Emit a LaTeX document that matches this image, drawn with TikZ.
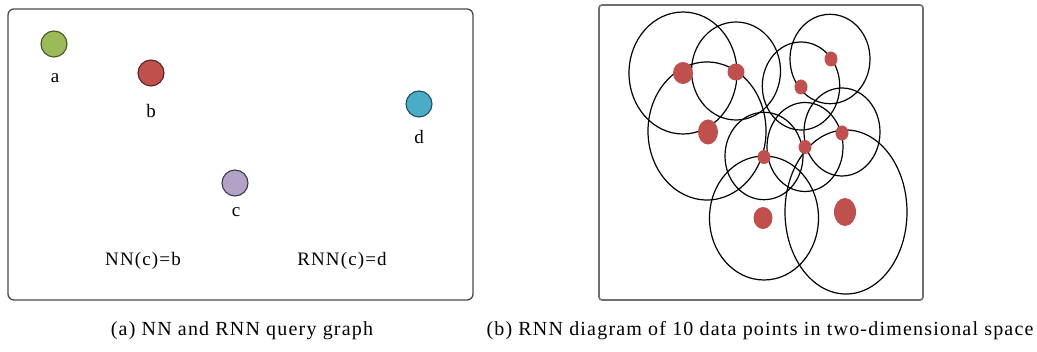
\documentclass[tikz,border=0pt]{standalone}
\usepackage{fontspec}
\setmainfont[LetterSpace=6]{Liberation Serif}
\usetikzlibrary{positioning}
\definecolor{PtGreen}{HTML}{9BBB59}
\definecolor{PtRed}{HTML}{C0504D}
\definecolor{PtLilac}{HTML}{B3A2C7}
\definecolor{PtCyan}{HTML}{4BACC6}
\definecolor{FrameDark}{HTML}{4A4A4A}
\definecolor{FrameGray}{HTML}{6E6E6E}
\tikzset{
  pt/.style={draw, circle, minimum size=26pt, inner sep=0pt, line width=1.1pt},
  lbl/.style={anchor=base, font=\fontsize{19}{21}\selectfont},
  subcap/.style={anchor=base, font=\fontsize{20}{22}\selectfont},
  ring/.style={draw=black, line width=1.2pt},
  spot/.style={fill=PtRed}
}

\begin{document}
\begin{tikzpicture}[x=1pt, y=-1pt]
  \useasboundingbox (0,0) rectangle (1037,352);
  \draw[rounded corners=6pt, line width=1.3pt, FrameDark] (8,9) rectangle (473,300);
  \node[pt, draw=PtGreen!45!black, fill=PtGreen] (a) at (54,44) {};
  \node[lbl] (la) at (55,83) {a};
  \node[pt, draw=PtRed!45!black, fill=PtRed] (b) at (151,73) {};
  \node[lbl] (lb) at (151,118) {b};
  \node[pt, draw=PtLilac!35!black, fill=PtLilac] (c) at (235,183) {};
  \node[lbl] (lc) at (236,217) {c};
  \node[pt, draw=PtCyan!45!black, fill=PtCyan] (d) at (419,104) {};
  \node[lbl] (ld) at (419,144) {d};
  \node[lbl] (nn) at (143,266) {NN(c)=b};
  \node[lbl] (rnn) at (342,266) {RNN(c)=d};

  \draw[rounded corners=3pt, line width=1.6pt, FrameGray] (599,5) rectangle (923,300);
  \draw[ring] (683,73) ellipse [x radius=54, y radius=61];
  \draw[ring] (736,71) ellipse [x radius=44.5, y radius=49];
  \draw[ring] (830,59) ellipse [x radius=40, y radius=44.7];
  \draw[ring] (801,86) ellipse [x radius=38.7, y radius=44];
  \draw[ring] (707,131) ellipse [x radius=59, y radius=69];
  \draw[ring] (764,156) ellipse [x radius=39, y radius=43.7];
  \draw[ring] (805,147) ellipse [x radius=38, y radius=44.5];
  \draw[ring] (842,132) ellipse [x radius=38, y radius=44];
  \draw[ring] (764,218) ellipse [x radius=54.5, y radius=62];
  \draw[ring] (846,212) ellipse [x radius=61, y radius=82];
  \fill[spot] (683,73) ellipse [x radius=10, y radius=11];
  \fill[spot] (736,72) ellipse [x radius=8.5, y radius=8.5];
  \fill[spot] (831,59) ellipse [x radius=6.5, y radius=7.5];
  \fill[spot] (801,87) ellipse [x radius=6.5, y radius=7.5];
  \fill[spot] (708,132) ellipse [x radius=10, y radius=12.5];
  \fill[spot] (764,157) ellipse [x radius=6.5, y radius=7];
  \fill[spot] (805,147) ellipse [x radius=6.5, y radius=7];
  \fill[spot] (842,133) ellipse [x radius=6.5, y radius=7.5];
  \fill[spot] (763,218) ellipse [x radius=9.5, y radius=11];
  \fill[spot] (845,212) ellipse [x radius=11, y radius=14];

  \node[subcap] (capa) at (242,336) {(a) NN and RNN query graph};
  \node[subcap] (capb) at (760,336) {(b) RNN diagram of 10 data points in two-dimensional space};
\end{tikzpicture}
\end{document}
